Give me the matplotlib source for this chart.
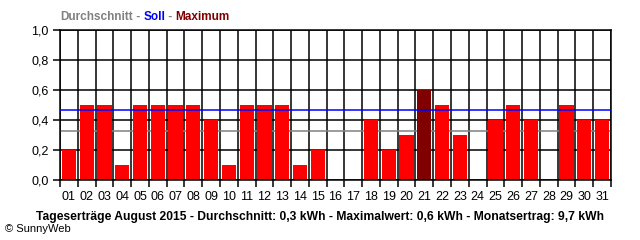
"""Tageserträge August 2015 (SunnyWeb style bar chart)."""

import matplotlib

matplotlib.use("Agg")
import matplotlib.pyplot as plt
import numpy as np
from matplotlib.transforms import offset_copy

days = [f"{d:02d}" for d in range(1, 32)]
yields_kwh = [0.2, 0.5, 0.5, 0.1, 0.5, 0.5, 0.5, 0.5, 0.4, 0.1,
              0.5, 0.5, 0.5, 0.1, 0.2, 0.0, 0.0, 0.4, 0.2, 0.3,
              0.6, 0.5, 0.3, 0.0, 0.4, 0.5, 0.4, 0.0, 0.5, 0.4, 0.4]
soll_kwh = 0.47
average_kwh = 0.33
y_ticks = [0.0, 0.2, 0.4, 0.6, 0.8, 1.0]
y_labels = ["0,0", "0,2", "0,4", "0,6", "0,8", "1,0"]
legend_parts = [("Durchschnitt", "#808080"), (" - ", "#808080"), ("Soll", "#0000ff"),
                (" - ", "#808080"), ("Maximum", "#800000")]

plt.rcParams["font.family"] = ["Liberation Sans", "DejaVu Sans"]

fig = plt.figure(figsize=(6.4, 2.4), dpi=100)
ax = fig.add_axes([60 / 640, 60 / 240, 551 / 640, 150 / 240])

x = np.arange(len(days))
vals = np.array(yields_kwh)
colors = ["#800000" if v == vals.max() else "#ff0000" for v in vals]

ax.axhline(average_kwh, color="#808080", lw=1.1, zorder=1)
ax.bar(x, vals, width=0.8, color=colors, zorder=2)
ax.axhline(soll_kwh, color="#0000ff", lw=1.1, zorder=3)

ax.set_xlim(-0.5, len(days) - 0.5)
ax.set_ylim(0, 1.0)
ax.set_yticks(y_ticks)
ax.set_yticklabels(y_labels, fontsize=9)
ax.set_xticks(np.arange(len(days) + 1) - 0.5)
ax.set_xticklabels([])
ax.set_xticks(x, minor=True)
ax.set_xticklabels(days, minor=True, fontsize=9)
ax.tick_params(axis="x", which="minor", length=0, pad=8)
ax.tick_params(axis="x", which="major", length=5, width=1.1, color="black")
ax.tick_params(axis="y", length=5, width=1.1, pad=3)
ax.grid(True, which="major", color="black", lw=1.1, zorder=0)
ax.set_axisbelow(True)
for s in ax.spines.values():
    s.set_linewidth(1.1)

# coloured legend line at the top, pieces placed one after another
renderer = fig.canvas.get_renderer()
offset = 0.0
for text, color in legend_parts:
    tr = offset_copy(fig.transFigure, fig=fig, x=offset, y=0, units="points")
    t = fig.text(60 / 640, 1 - 17 / 240, text, color=color, fontsize=8.5,
                 fontweight="bold", va="center", transform=tr)
    offset += t.get_window_extent(renderer).width * 72 / fig.dpi

fig.text(320 / 640, 1 - 217 / 240,
         "Tageserträge August 2015 - Durchschnitt: 0,3 kWh - Maximalwert: 0,6 kWh"
         " - Monatsertrag: 9,7 kWh",
         fontsize=8.75, fontweight="bold", ha="center", va="center")
fig.text(5 / 640, 1 - 229 / 240, "© SunnyWeb", fontsize=8, va="center")

fig.savefig("out.png", dpi=100)
